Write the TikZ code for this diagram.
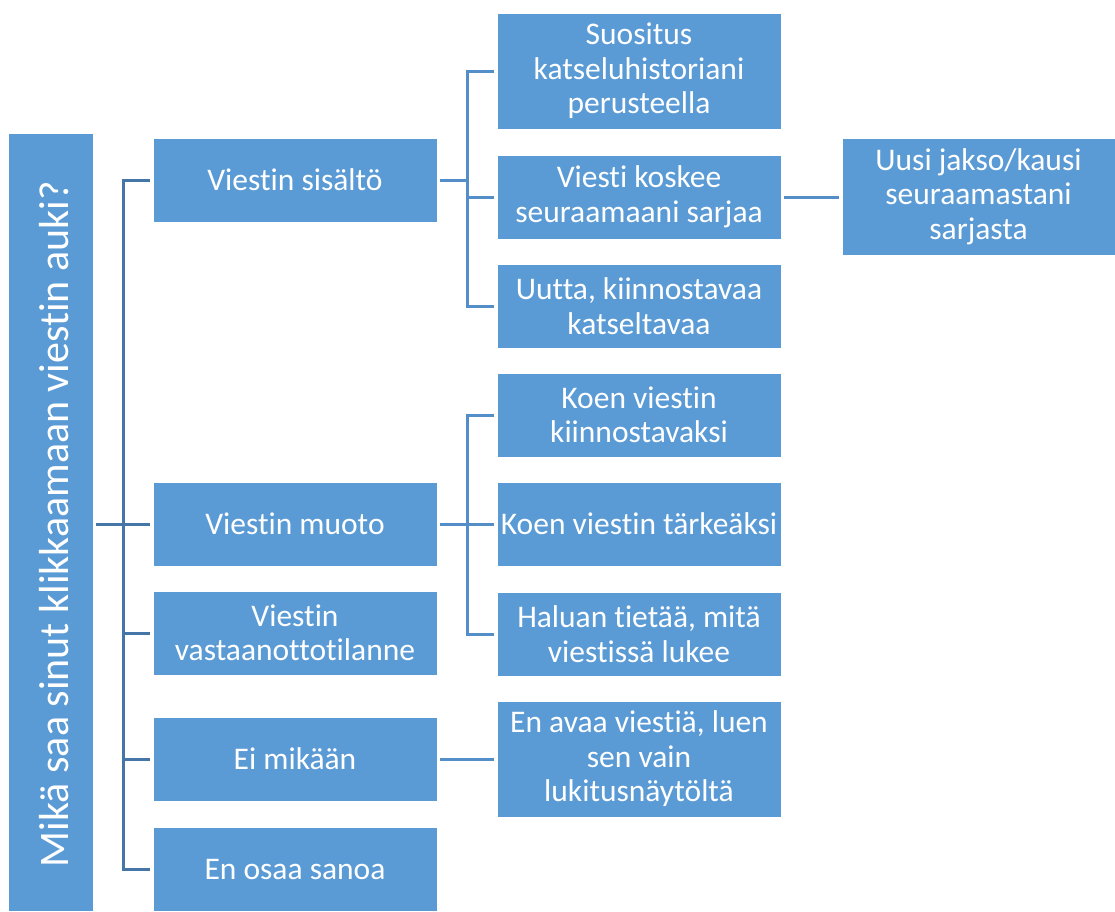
\documentclass[tikz,border=0pt]{standalone}
\usepackage{fontspec}
\setmainfont[Ligatures=NoCommon]{Carlito}
\usetikzlibrary{arrows,shapes}
\definecolor{boxblue}{RGB}{91,155,213}
\definecolor{linedark}{RGB}{70,118,168}
\definecolor{linelight}{RGB}{84,142,200}
\tikzset{
  treenode/.style = {align=center, inner sep=0pt, text centered, white,
    font=\fontsize{31.5}{34.5}\selectfont, rectangle, fill=boxblue,
    draw=white, thin},
  box_root/.style = {treenode, minimum width=85pt, minimum height=778pt},% juuri
  box_main/.style = {treenode, minimum width=284pt, minimum height=84pt},% taso 1
  box_sub/.style = {treenode, minimum width=284pt, minimum height=84pt},% taso 2
  box_tall/.style = {treenode, minimum width=284pt, minimum height=116pt},% taso 2, korkea
  box_leaf/.style = {treenode, minimum width=273pt, minimum height=117pt},% taso 3
  link_dark/.style = {draw=linedark, line width=3pt},
  link_light/.style = {draw=linelight, line width=3pt}
}
\begin{document}
\begin{tikzpicture}[x=1pt,y=-1pt]
\useasboundingbox (0,0) rectangle (1115,911);
% juuri
\node [box_root] (root) at (50.5,522) {};
\node [rotate=90, white, font=\fontsize{42}{48}\selectfont] (roottext) at ([xshift=4pt,yshift=-2pt]root.center)
  {Mikä saa sinut klikkaamaan viestin auki?};
% taso 1
\node [box_main] (sis) at (295,180) {Viestin sisältö};
\node [box_main] (muoto) at (295,524) {Viestin muoto};
\node [box_main] (vast) at (295,633) {Viestin\\vastaanottotilanne};
\node [box_main] (eimi) at (295,759) {Ei mikään};
\node [box_main] (enosaa) at (295,869) {En osaa sanoa};
% taso 2
\node [box_tall] (suos) at (639,71) {Suositus\\katseluhistoriani\\perusteella};
\node [box_sub] (koskee) at (639,197) {Viesti koskee\\seuraamaani sarjaa};
\node [box_sub] (uutta) at (639,306) {Uutta, kiinnostavaa\\katseltavaa};
\node [box_sub] (kiinn) at (639,415) {Koen viestin\\kiinnostavaksi};
\node [box_sub] (tark) at (639,524) {Koen viestin tärkeäksi};
\node [box_sub] (haluan) at (639,634) {Haluan tietää, mitä\\viestissä lukee};
\node [box_tall] (enavaa) at (639,759) {En avaa viestiä, luen\\sen vain\\lukitusnäytöltä};
% taso 3
\node [box_leaf] (uusi) at (978.5,196.5) {Uusi jakso/kausi\\seuraamastani\\sarjasta};
% liitokset
\coordinate (j0) at (123,524);
\coordinate (j1) at (467,180);
\coordinate (j2) at (467,524);
\draw [link_dark] ([xshift=3pt]root.east |- j0) -- (j0);
\foreach \n in {sis,muoto,vast,eimi,enosaa}
  \draw [link_dark] ([xshift=-3pt]\n.west) -| (j0);
\draw [link_light] ([xshift=3pt]sis.east) -- (j1);
\foreach \n in {suos,koskee,uutta}
  \draw [link_light] ([xshift=-3pt]\n.west) -| (j1);
\draw [link_light] ([xshift=3pt]muoto.east) -- (j2);
\foreach \n in {kiinn,tark,haluan}
  \draw [link_light] ([xshift=-3pt]\n.west) -| (j2);
\draw [link_light] ([xshift=3pt]eimi.east) -- ([xshift=-3pt]enavaa.west |- eimi.east);
\draw [link_light] ([xshift=3pt]koskee.east) -- ([xshift=-3pt]uusi.west |- koskee.east);
\end{tikzpicture}
\end{document}
